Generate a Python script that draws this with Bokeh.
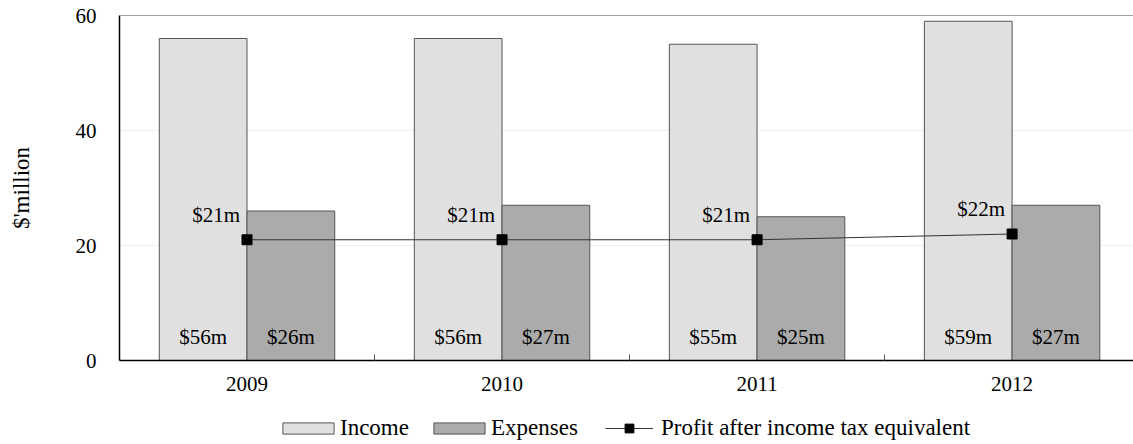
from bokeh.plotting import figure
from bokeh.layouts import column
from bokeh.models import (ColumnDataSource, FixedTicker, Legend, LegendItem, Span)
from bokeh.transform import dodge
from bokeh.core.properties import value
from bokeh.embed import file_html
from bokeh.resources import INLINE

# ---- data ----
years = ["2009", "2010", "2011", "2012"]
income = [56, 56, 55, 59]
expenses = [26, 27, 25, 27]
profit = [21, 21, 21, 22]
y_ticks = [0, 20, 40, 60]
y_label = "$'million"
series_names = ["Income", "Expenses", "Profit after income tax equivalent"]

FONT = "Liberation Serif"
Y_MAX = y_ticks[-1]
BAR_W = 0.344
INC_FILL, EXP_FILL, EDGE = "#e0e0e0", "#ababab", "#555555"
LINE_C = "#333333"
W = 1133

centers = [i + 0.5 for i in range(len(years))]
src = ColumnDataSource(dict(
    x=centers,
    income=income,
    expenses=expenses,
    profit=profit,
    inc_lbl=["$%dm" % v for v in income],
    exp_lbl=["$%dm" % v for v in expenses],
    pro_lbl=["$%dm" % v for v in profit],
    zero=[0] * len(years),
))

p = figure(width=W, height=400, output_backend="svg", toolbar_location=None,
           x_range=(0, 3.976), y_range=(0, Y_MAX),
           min_border_left=119, min_border_right=0, min_border_top=15,
           min_border_bottom=40)
p.outline_line_color = None

r_inc = p.vbar(x=dodge("x", -BAR_W / 2, range=p.x_range), top="income", width=BAR_W,
               bottom=0, source=src, fill_color=INC_FILL, line_color=EDGE, line_width=1)
r_exp = p.vbar(x=dodge("x", BAR_W / 2, range=p.x_range), top="expenses", width=BAR_W,
               bottom=0, source=src, fill_color=EXP_FILL, line_color=EDGE, line_width=1)
r_line = p.line(x="x", y="profit", source=src, line_color=LINE_C, line_width=1)
r_pts = p.scatter(x="x", y="profit", source=src, marker="square", size=10,
                  fill_color="black", line_color="black")

lbl_kw = dict(text_font=value(FONT), text_font_size="21px", text_color="black",
              text_baseline="alphabetic", source=src)
p.text(x=dodge("x", -BAR_W / 2, range=p.x_range), y="zero", text="inc_lbl",
       text_align="center", y_offset=-24, **lbl_kw)
p.text(x=dodge("x", BAR_W / 2, range=p.x_range), y="zero", text="exp_lbl",
       text_align="center", y_offset=-24, **lbl_kw)
p.text(x="x", y="profit", text="pro_lbl", text_align="right", x_offset=-7,
       y_offset=-25, **lbl_kw)

# top border line
p.add_layout(Span(location=Y_MAX, dimension="width", line_color="#444444",
                  line_width=1))

# axes
p.xgrid.grid_line_color = None
p.ygrid.grid_line_color = "#efefef"
p.ygrid.ticker = FixedTicker(ticks=y_ticks)

xa = p.xaxis[0]
xa.ticker = FixedTicker(ticks=centers, minor_ticks=list(range(1, len(years))))
xa.major_label_overrides = {c: y for c, y in zip(centers, years)}
xa.major_tick_line_color = None
xa.minor_tick_in = 6
xa.minor_tick_out = 0
xa.minor_tick_line_color = EDGE
xa.axis_line_color = "black"
xa.axis_line_width = 1.5
xa.major_label_standoff = 10
xa.major_label_text_font = FONT
xa.major_label_text_font_size = "21px"
xa.major_label_text_color = "black"

ya = p.yaxis[0]
ya.ticker = FixedTicker(ticks=y_ticks)
ya.major_tick_line_color = None
ya.minor_tick_line_color = None
ya.axis_line_color = "black"
ya.axis_line_width = 1.5
ya.major_label_standoff = 17
ya.major_label_text_font = FONT
ya.major_label_text_font_size = "21px"
ya.major_label_text_color = "black"
ya.axis_label = y_label
ya.axis_label_text_font = FONT
ya.axis_label_text_font_size = "23px"
ya.axis_label_text_font_style = "normal"
ya.axis_label_text_color = "black"
ya.axis_label_standoff = 39

# ---- legend strip (separate figure so the legend is not clipped) ----
# its renderers reuse the chart data but lie outside this strip's ranges
lg = figure(width=W, height=44, output_backend="svg", toolbar_location=None,
            x_axis_location=None, y_axis_location=None,
            min_border=0, x_range=(-3, -2), y_range=(-3, -2))
lg.outline_line_color = None
lg.xgrid.grid_line_color = None
lg.ygrid.grid_line_color = None
l_inc = lg.vbar(x="x", top="income", width=BAR_W, source=src,
                fill_color=INC_FILL, line_color=EDGE)
l_exp = lg.vbar(x="x", top="expenses", width=BAR_W, source=src,
                fill_color=EXP_FILL, line_color=EDGE)
l_line = lg.line(x="x", y="profit", source=src, line_color=LINE_C, line_width=1)
l_pts = lg.scatter(x="x", y="profit", source=src, marker="square",
                   fill_color="black", line_color="black")

leg_kw = dict(orientation="horizontal", padding=0, margin=0, border_line_color=None,
              background_fill_alpha=0, label_text_font=FONT,
              label_text_font_size="23px", label_text_color="black")
leg1 = Legend(items=[LegendItem(label=series_names[0], renderers=[l_inc]),
                     LegendItem(label=series_names[1], renderers=[l_exp])],
              location=(157, 3), glyph_width=64, glyph_height=14,
              label_standoff=0, spacing=18, **leg_kw)
leg2 = Legend(items=[LegendItem(label=series_names[2], renderers=[l_line, l_pts])],
              location=(486, 3), glyph_width=48, glyph_height=22,
              label_standoff=8, **leg_kw)
lg.add_layout(leg1)
lg.add_layout(leg2)

layout = column(p, lg, spacing=0)
open("out.html", "w").write(file_html(layout, INLINE))
